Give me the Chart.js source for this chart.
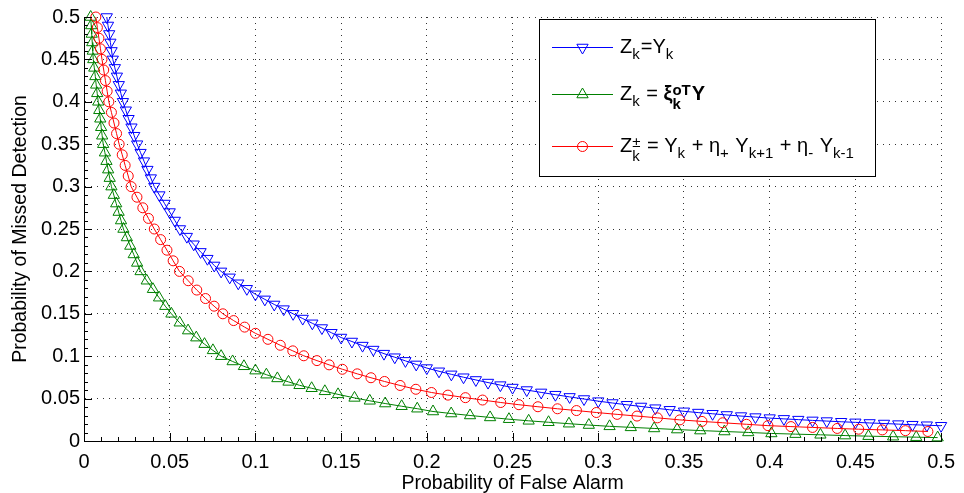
<!DOCTYPE html>
<html>
<head>
<meta charset="utf-8">
<script src="https://cdn.jsdelivr.net/npm/chart.js@4.4.0/dist/chart.umd.min.js"></script>
<style>
  body { margin: 0; background: #fff; }
  #wrap { width: 964px; height: 493px; }
</style>
</head>
<body>
<div id="wrap"><canvas id="rocChart" width="964" height="493"></canvas></div>
<script>
// values (probability of false alarm, probability of missed detection)
const blueX = [0.0133, 0.0140, 0.0147, 0.0154, 0.0161, 0.0168,
  0.0180, 0.0192, 0.0203, 0.0215, 0.0227,
  0.0244, 0.0260, 0.0277, 0.0293, 0.0310,
  0.033, 0.035, 0.037, 0.039, 0.041,
  0.044, 0.047, 0.050, 0.053, 0.056,
  0.060, 0.064, 0.068, 0.072, 0.076, 0.080,
  0.085, 0.090, 0.095, 0.100,
  0.1055, 0.111, 0.1165, 0.122,
  0.1276, 0.1332, 0.1388, 0.1444, 0.150,
  0.1563, 0.1625, 0.1688, 0.175,
  0.1813, 0.1875, 0.1938, 0.200,
  0.2071, 0.2143, 0.2214, 0.2286, 0.2357, 0.2429, 0.250,
  0.2583, 0.2667, 0.275, 0.2833, 0.2917, 0.300,
  0.3083, 0.3167, 0.325, 0.3333, 0.3417, 0.350,
  0.3583, 0.3667, 0.375, 0.3833, 0.3917, 0.400,
  0.4083, 0.4167, 0.425, 0.4333, 0.4417, 0.450,
  0.4583, 0.4667, 0.475, 0.4833, 0.4917, 0.500];
const blueY = [0.50, 0.49, 0.48, 0.47, 0.46, 0.45,
  0.44, 0.43, 0.42, 0.41, 0.40,
  0.39, 0.38, 0.37, 0.36, 0.35,
  0.34, 0.33, 0.32, 0.31, 0.30,
  0.29, 0.28, 0.27, 0.26, 0.25,
  0.241, 0.232, 0.223, 0.215, 0.207, 0.200,
  0.193, 0.186, 0.1795, 0.173,
  0.167, 0.161, 0.1555, 0.150,
  0.1444, 0.1388, 0.1332, 0.1276, 0.122,
  0.1173, 0.1125, 0.1078, 0.103,
  0.0988, 0.0945, 0.0903, 0.086,
  0.0822, 0.0786, 0.0752, 0.072, 0.0689, 0.0659, 0.063,
  0.0601, 0.0573, 0.0546, 0.052, 0.0495, 0.047,
  0.0448, 0.0427, 0.0407, 0.0387, 0.0368, 0.035,
  0.0335, 0.0321, 0.0307, 0.0294, 0.0282, 0.027,
  0.0261, 0.0252, 0.0243, 0.0235, 0.0227, 0.022,
  0.0213, 0.0206, 0.0199, 0.0192, 0.0186, 0.018];

const greenX = [0.0039, 0.0042, 0.0045, 0.0048, 0.0051, 0.0054,
  0.006, 0.0066, 0.0071, 0.0077, 0.0083,
  0.0089, 0.0095, 0.010, 0.0106, 0.0112,
  0.0122, 0.0131, 0.0141, 0.015, 0.016,
  0.0174, 0.0188, 0.0202, 0.0216, 0.023,
  0.025, 0.027, 0.029, 0.031, 0.033,
  0.0366, 0.0402, 0.0438, 0.0474, 0.051,
  0.0558, 0.0607, 0.0655, 0.0703, 0.0752, 0.080,
  0.0867, 0.0933, 0.100,
  0.1064, 0.1128, 0.1193,
  0.1257, 0.1328, 0.1405, 0.1482, 0.1578, 0.1667, 0.1757, 0.1853, 0.1944, 0.2036,
  0.2142, 0.2252, 0.2369, 0.2479, 0.2594, 0.271, 0.2829, 0.2945, 0.3066,
  0.319, 0.3326, 0.346, 0.3595, 0.3736, 0.3875, 0.401,
  0.415, 0.4296, 0.444, 0.4576, 0.472, 0.4855, 0.498];
const greenY = [0.50, 0.49, 0.48, 0.47, 0.46, 0.45,
  0.44, 0.43, 0.42, 0.41, 0.40,
  0.39, 0.38, 0.37, 0.36, 0.35,
  0.34, 0.33, 0.32, 0.31, 0.30,
  0.29, 0.28, 0.27, 0.26, 0.25,
  0.24, 0.23, 0.22, 0.21, 0.20,
  0.189, 0.179, 0.169, 0.159, 0.15,
  0.1395, 0.1302, 0.1219, 0.1142, 0.1069, 0.10,
  0.0938, 0.0881, 0.083,
  0.0782, 0.0738, 0.0697,
  0.0657, 0.0622, 0.0586, 0.055, 0.0508, 0.0474, 0.0442, 0.041, 0.0381, 0.0348,
  0.0324, 0.0301, 0.0278, 0.0257, 0.0238, 0.0221, 0.0204, 0.0188, 0.0173,
  0.0161, 0.0148, 0.0135, 0.0123, 0.0112, 0.0101, 0.0089,
  0.0081, 0.0073, 0.0064, 0.0057, 0.0051, 0.0045, 0.004];

const redX = [0.0069, 0.0078, 0.0087, 0.0096, 0.0105,
  0.0115, 0.0125, 0.0135, 0.0145,
  0.016, 0.0175, 0.019, 0.0205,
  0.0223, 0.024, 0.0258, 0.0275,
  0.0309, 0.0343, 0.0376, 0.041,
  0.0447, 0.0484, 0.052, 0.0557,
  0.0608, 0.0658, 0.0709, 0.0759, 0.081,
  0.0873, 0.0937, 0.100,
  0.1073, 0.1145, 0.1218,
  0.1282, 0.1359, 0.143, 0.1507, 0.1594, 0.1674, 0.1753, 0.1844, 0.1936, 0.2027,
  0.2123, 0.2225, 0.2325, 0.2431, 0.2537, 0.2648, 0.2762, 0.2873, 0.2989,
  0.311, 0.3226, 0.3345, 0.3476, 0.3605, 0.3726, 0.3865, 0.399, 0.4124, 0.425,
  0.4394, 0.4519, 0.4657, 0.4792, 0.4923];
const redY = [0.50, 0.4875, 0.475, 0.4625, 0.45,
  0.4375, 0.425, 0.4125, 0.40,
  0.3875, 0.375, 0.3625, 0.35,
  0.3375, 0.325, 0.3125, 0.30,
  0.2875, 0.275, 0.2625, 0.25,
  0.2375, 0.225, 0.2125, 0.20,
  0.189, 0.178, 0.168, 0.159, 0.15,
  0.142, 0.1343, 0.127,
  0.1199, 0.1129, 0.1063,
  0.1005, 0.0948, 0.0898, 0.0846, 0.0792, 0.0746, 0.0702, 0.0655, 0.061, 0.0572,
  0.0541, 0.0511, 0.0483, 0.0454, 0.0428, 0.0404, 0.038, 0.0359, 0.0336,
  0.0314, 0.0294, 0.0273, 0.0249, 0.0231, 0.0215, 0.0197, 0.0181, 0.017, 0.016,
  0.0148, 0.0139, 0.0131, 0.0122, 0.0112];

const tickValues = [0, 0.05, 0.1, 0.15, 0.2, 0.25, 0.3, 0.35, 0.4, 0.45, 0.5];

const FONT = '"Liberation Sans", Arial, Helvetica, sans-serif';

const toPoints = (xs, ys) => xs.map((x, i) => ({x: x, y: ys[i]}));

const series = [
  {color: '#0000ff', style: 'triangle', rot: 180, radius: 6.5,
   parts: [{t: 'Z'}, {sub: 'k'}, {t: '=Y'}, {sub: 'k'}]},
  {color: '#008000', style: 'triangle', rot: 0, radius: 6.5,
   parts: [{t: 'Z'}, {sub: 'k'}, {t: ' = '}, {t: 'ξ', bold: true}, {sup: 'oT', sub: 'k', bold: true}, {t: 'Y', bold: true}]},
  {color: '#ff0000', style: 'circle', rot: 0, radius: 5,
   parts: [{t: 'Z'}, {sup: '±', sub: 'k'}, {t: ' = Y'}, {sub: 'k'}, {t: ' + η'}, {sub: '+'},
           {t: ' Y'}, {sub: 'k+1'}, {t: ' + η'}, {sub: '-'}, {t: ' Y'}, {sub: 'k-1'}]}
];

function drawRich(ctx, x, y, parts) {
  parts.forEach(p => {
    const w = p.bold ? 'bold ' : '';
    if (p.t !== undefined) {
      ctx.font = w + '20px ' + FONT;
      ctx.fillText(p.t, x, y);
      x += ctx.measureText(p.t).width;
    } else {
      ctx.font = w + '15px ' + FONT;
      let adv = 0;
      if (p.sup) {
        ctx.fillText(p.sup, x, y - 5);
        adv = ctx.measureText(p.sup).width;
      }
      if (p.sub) {
        ctx.fillText(p.sub, x, y + (p.sup ? 9 : 6));
        adv = Math.max(adv, ctx.measureText(p.sub).width);
      }
      x += adv + 1;
    }
  });
}

// matlab-style legend box with sub/superscripts
const richLegend = {
  id: 'richLegend',
  afterDraw(chart) {
    const ctx = chart.ctx;
    const a = chart.chartArea;
    const bx = a.left + 455, by = a.top + 2, bw = 336, bh = 157;
    const rows = [27.7, 75.3, 127];
    ctx.save();
    ctx.fillStyle = '#fff';
    ctx.fillRect(bx, by, bw, bh);
    ctx.strokeStyle = '#000';
    ctx.lineWidth = 1;
    ctx.strokeRect(bx + 0.5, by + 0.5, bw, bh);
    series.forEach((s, i) => {
      const ly = Math.round(by + rows[i]) + 0.5;
      ctx.strokeStyle = s.color;
      ctx.lineWidth = 1;
      ctx.beginPath();
      ctx.moveTo(bx + 13, ly);
      ctx.lineTo(bx + 74, ly);
      ctx.stroke();
      ctx.fillStyle = 'rgba(0,0,0,0)';
      Chart.helpers.drawPoint(ctx, {pointStyle: s.style, rotation: s.rot, radius: s.radius, borderWidth: 1}, bx + 43.5, ly);
      ctx.fillStyle = '#000';
      ctx.textBaseline = 'alphabetic';
      ctx.textAlign = 'left';
      drawRich(ctx, bx + 81, ly + 5, s.parts);
    });
    ctx.restore();
  }
};

// inward major and minor tick marks
const inTicks = {
  id: 'inTicks',
  afterDraw(chart) {
    const {ctx, chartArea: a, scales: {x, y}} = chart;
    ctx.save();
    ctx.strokeStyle = '#000';
    ctx.lineWidth = 1;
    ctx.beginPath();
    for (let i = 0; i <= 50; i++) {
      const v = i / 100;
      const len = i % 5 === 0 ? 8 : 4;
      const px = Math.round(x.getPixelForValue(v)) + 0.5;
      ctx.moveTo(px, a.bottom);
      ctx.lineTo(px, a.bottom - len);
      const py = Math.round(y.getPixelForValue(v)) + 0.5;
      ctx.moveTo(a.left, py);
      ctx.lineTo(a.left + len, py);
    }
    ctx.stroke();
    ctx.restore();
  }
};

const makeSet = (s, pts, order) => ({
  data: pts,
  showLine: true,
  borderColor: s.color,
  borderWidth: 1,
  pointStyle: s.style,
  pointRotation: s.rot,
  pointRadius: s.radius,
  pointHoverRadius: s.radius,
  pointBorderColor: s.color,
  pointBackgroundColor: 'rgba(0,0,0,0)',
  pointBorderWidth: 1,
  tension: 0,
  clip: false,
  order: order
});

const axis = (title, isX) => ({
  type: 'linear',
  min: 0,
  max: 0.5,
  afterBuildTicks: (scale) => { scale.ticks = tickValues.map(v => ({value: v})); },
  afterFit: (scale) => { if (isX) scale.height = 52; else scale.width = 84; },
  grid: {color: '#333', lineWidth: 1, drawTicks: false, tickLength: 0},
  border: {display: true, color: '#000', width: 1, dash: [1, 5]},
  ticks: {
    color: '#000',
    padding: isX ? 9 : 4,
    font: {family: FONT, size: 20},
    callback: (v) => String(+v.toFixed(2))
  },
  title: {
    display: true,
    text: title,
    color: '#000',
    font: {family: FONT, size: 19.5, lineHeight: 1},
    padding: isX ? {top: 0, bottom: 0} : {top: 11, bottom: 0}
  }
});

new Chart(document.getElementById('rocChart'), {
  type: 'scatter',
  data: {
    datasets: [
      makeSet(series[0], toPoints(blueX, blueY), 2),
      makeSet(series[1], toPoints(greenX, greenY), 1),
      makeSet(series[2], toPoints(redX, redY), 0)
    ]
  },
  options: {
    responsive: false,
    animation: false,
    layout: {padding: {left: 0, right: 14, top: 17, bottom: 0}},
    plugins: {legend: {display: false}, tooltip: {enabled: false}},
    scales: {
      x: axis('Probability of False Alarm', true),
      y: axis('Probability of Missed Detection', false)
    }
  },
  plugins: [inTicks, richLegend]
});
</script>
</body>
</html>
